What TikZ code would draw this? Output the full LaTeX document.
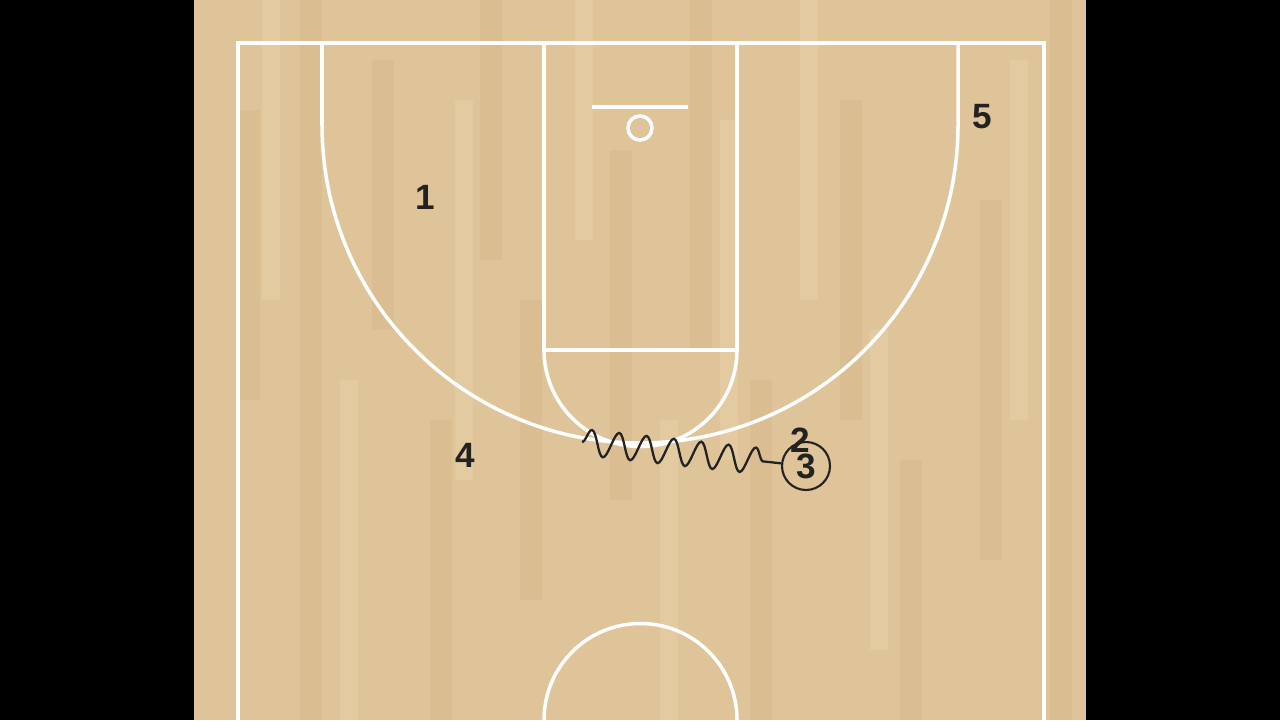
\documentclass[tikz,border=0pt]{standalone}
\usepackage{fontspec}
\setsansfont{Liberation Sans}
\usepackage{tikz}
\usetikzlibrary{positioning, decorations.pathmorphing}
\usepackage{xcolor}
\definecolor{floor}{HTML}{DFC49A}
\definecolor{floordark}{HTML}{DABE92}
\definecolor{floorlight}{HTML}{E3CAA0}
\definecolor{ink}{HTML}{222222}
\tikzset{
  courtline/.style={draw=white, line width=2pt},
  player/.style={font=\sffamily\bfseries\fontsize{20}{24}\selectfont, text=ink, inner sep=0pt},
  ballhandler/.style={player, draw=ink, circle, line width=1.2pt, minimum size=0.96cm},
  dribble/.style={draw=ink, line width=1.3pt, decorate,
    decoration={snake, amplitude=0.26cm, segment length=0.55cm, post length=0.1cm}}
}
\begin{document}
\begin{tikzpicture}[x=0.02cm, y=-0.02cm]
			\useasboundingbox (0,0) rectangle (1280,720);
			\fill [black] (0,0) rectangle (1280,720);
			% floor
			\fill [floor] (194,0) rectangle (1086,720);
			\foreach \xa/\ya/\yb in {238/110/400, 300/0/720, 372/60/330, 430/420/720, 480/0/260, 520/300/600, 610/150/500, 690/0/350, 750/380/720, 840/100/420, 900/460/720, 980/200/560, 1050/0/720}
				\fill [floordark] (\xa,\ya) rectangle ++(22,\yb-\ya);
			\foreach \xa/\ya/\yb in {262/0/300, 340/380/720, 455/100/480, 575/0/240, 660/420/720, 720/120/460, 800/0/300, 870/330/650, 1010/60/420}
				\fill [floorlight] (\xa,\ya) rectangle ++(18,\yb-\ya);
			% court lines
			\draw [courtline] (238,720) -- (238,43) -- (1044,43) -- (1044,720);
			\draw [courtline] (322,43) -- (322,125) arc (180:0:318) -- (958,43);
			\draw [courtline] (544,43) -- (544,350) -- (737,350) -- (737,43);
			\draw [courtline] (544,350) arc (180:0:96.5);
			\draw [courtline] (592,107) -- (688,107);
			\draw [courtline] (640,128) circle (12);
			\draw [courtline] (544,720) arc (180:360:96.5);
			% players
			\node [player] (p1) at (425,197) {1};
			\node [player] (p5) at (982,117) {5};
			\node [player] (p4) at (465,455) {4};
			\node [player] (p2) at (800,440) {2};
			\node [ballhandler] (p3) at (806,466) {3};
			\coordinate (dribstart) at (582,442);
			\draw [dribble] (dribstart) -- (p3);
		\end{tikzpicture}
\end{document}
